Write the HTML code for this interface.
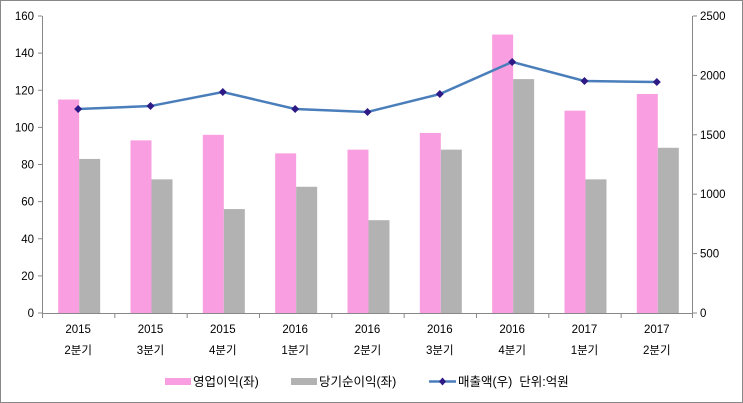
<!DOCTYPE html><html><head><meta charset="utf-8"><style>body{margin:0;background:#fff}svg{display:block}text{font-family:"Liberation Sans","Noto Sans CJK KR",sans-serif;font-size:11.5px;fill:#000}.lg{font-size:12.5px}</style></head><body>
<svg width="743" height="403" viewBox="0 0 743 403">
<rect x="0.5" y="0.5" width="742" height="402" fill="#fff" stroke="#888"/>
<g id="bars"></g>
<g stroke="#888" stroke-width="1" fill="none">
<line x1="42.5" y1="16" x2="42.5" y2="313"/>
<line x1="692.5" y1="16" x2="692.5" y2="313"/>
<line x1="42" y1="313.5" x2="693" y2="313.5"/>
</g>
<g id="ticks" stroke="#888"></g>
<g id="labels"></g>
<polyline id="line" fill="none" stroke="#4A7EBB" stroke-width="2.5"/>
<g id="marks" fill="#2E1A87"></g>
<rect x="165" y="378" width="26" height="7" fill="#F99FE1"/>
<text class="lg" x="193" y="386">영업이익(좌)</text>
<rect x="291" y="378" width="26" height="7" fill="#B2B2B2"/>
<text class="lg" x="319" y="386">당기순이익(좌)</text>
<line x1="429" y1="381.5" x2="456" y2="381.5" stroke="#4A7EBB" stroke-width="2.5"/>
<path d="M442.5 377.5 l3.5 4 -3.5 4 -3.5 -4z" fill="#2E1A87"/>
<text class="lg" x="458" y="386" xml:space="preserve">매출액(우)  단위:억원</text>
</svg>
<script>
const ns="http://www.w3.org/2000/svg";
const P=[115,93,96,86,88,97,150,109,118],G=[83,72,56,68,50,88,126,72,89],L=[1717,1742,1860,1717,1692,1843,2113,1953,1944];
const yr=["2015","2015","2015","2016","2016","2016","2016","2017","2017"],q=["2분기","3분기","4분기","1분기","2분기","3분기","4분기","1분기","2분기"];
function el(t,a,p,txt){const e=document.createElementNS(ns,t);for(const k in a)e.setAttribute(k,a[k]);if(txt)e.textContent=txt;document.getElementById(p).appendChild(e);return e;}
const w=72.33,pts=[];
for(let i=0;i<9;i++){const c=42+w*(i+0.5);
const yp=313-P[i]*1.85625,yg=313-G[i]*1.85625;
el("rect",{x:c-20,y:yp,width:21,height:313-yp,fill:"#F99FE1"},"bars");
el("rect",{x:c+1,y:yg,width:21,height:313-yg,fill:"#B2B2B2"},"bars");
el("text",{x:c,y:333,"text-anchor":"middle"},"labels",yr[i]);
el("text",{x:c,y:354,"text-anchor":"middle"},"labels",q[i]);
const yl=313-L[i]/2500*297;pts.push(c+","+yl);
el("path",{d:`M${c} ${yl-4}l4 4-4 4-4-4z`},"marks");
el("line",{x1:42+w*i+.5,y1:313,x2:42+w*i+.5,y2:318},"ticks");}
el("line",{x1:692.5,y1:313,x2:692.5,y2:318},"ticks");
document.getElementById("line").setAttribute("points",pts.join(" "));
for(let v=0;v<=160;v+=20){const y=313-v*1.85625;el("line",{x1:38,y1:y,x2:42,y2:y},"ticks");el("text",{x:34,y:y+4,"text-anchor":"end"},"labels",""+v);}
for(let v=0;v<=2500;v+=500){const y=313-v/2500*297;el("line",{x1:693,y1:y,x2:697,y2:y},"ticks");el("text",{x:700,y:y+4},"labels",""+v);}
</script>
</body></html>
